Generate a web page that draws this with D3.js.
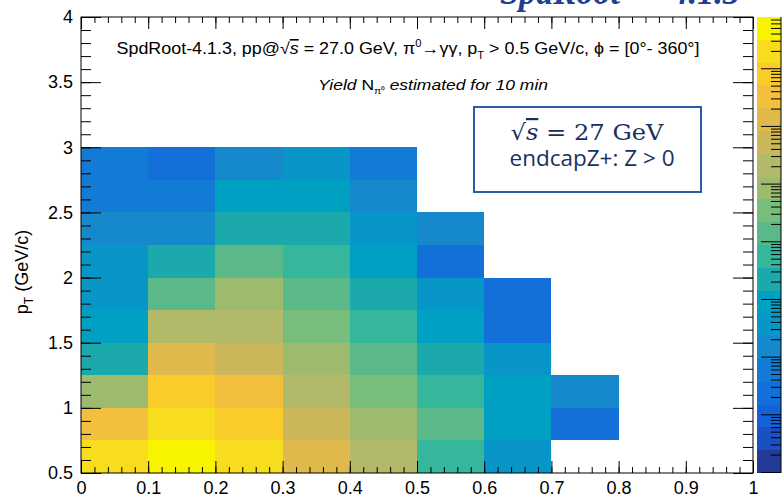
<!DOCTYPE html>
<html><head><meta charset="utf-8">
<script src="https://cdn.jsdelivr.net/npm/d3@7/dist/d3.min.js"></script>
<style>body{margin:0;background:#fff}svg{display:block}</style>
</head><body>
<svg id="c" width="784" height="500"></svg>
<script>
// ---- data ----
const xBinLow = [0, 0.1, 0.2, 0.3, 0.4, 0.5, 0.6, 0.7];          // x bin lower edges, width 0.1
const ptBinLow = [0.5, 0.75, 1.0, 1.25, 1.5, 1.75, 2.0, 2.25, 2.5, 2.75]; // pT bin lower edges, width 0.25
// yield per pT row (bottom to top), one entry per x bin, null = empty
const yield_pt050 = [2.0e6, 4.9e6, 1.9e6, 1.3e5, 2.1e4, 550, 36, null];
const yield_pt075 = [3.2e5, 2.1e6, 8.0e5, 5.2e4, 8.4e3, 1400, 88, 2.3];
const yield_pt100 = [8.4e3, 8.0e5, 3.1e5, 2.0e4, 3.4e3, 540, 86, 14];
const yield_pt125 = [220, 1.3e5, 5.0e4, 8.2e3, 1350, 215, 35, null];
const yield_pt150 = [90, 2.1e4, 2.0e4, 3.3e3, 560, 88, 2.3, null];
const yield_pt175 = [36, 1400, 8.5e3, 1380, 220, 37, 2.2, null];
const yield_pt200 = [35, 215, 1350, 540, 87, 2.4, null, null];
const yield_pt225 = [14, 14.5, 225, 218, 36, 14, null, null];
const yield_pt250 = [5.8, 5.9, 88, 90, 14.5, null, null, null];
const yield_pt275 = [5.7, 2.3, 14, 36, 5.9, null, null, null];
const yieldRows = [yield_pt050, yield_pt075, yield_pt100, yield_pt125, yield_pt150,
                   yield_pt175, yield_pt200, yield_pt225, yield_pt250, yield_pt275];
const xTicks = [0, 0.1, 0.2, 0.3, 0.4, 0.5, 0.6, 0.7, 0.8, 0.9, 1];
const yTicks = [0.5, 1, 1.5, 2, 2.5, 3, 3.5, 4];
const zLimits = [0.096, 7.74e6];
// 20-level palette, bottom to top
const palette = ["#233a96","#1a50c2","#1462d8","#1370d9","#127bd6","#1688cc","#0896c8","#00a0c3",
                 "#1ca9ac","#36b69a","#5bb888","#78bd7b","#9cbb6e","#b2b969","#ccb65a","#e0b94d",
                 "#f2c03c","#f9cc2a","#f7dd1e","#f8f400"];

// ---- layout ----
const L = 81, R = 753, T = 17, B = 473;
const svg = d3.select("#c");
const x = d3.scaleLinear([0, 1], [L, R]);
const y = d3.scaleLinear([0.5, 4], [B, T]);
const zY = d3.scaleLog(zLimits, [B, T]);
const color = d3.scaleQuantize([Math.log10(zLimits[0]), Math.log10(zLimits[1])], palette);

// title (cut off at top, as in the source slide)
svg.append("text").attr("x", 500).attr("y", 4)
  .attr("font-family", "Liberation Serif").attr("font-style", "italic").attr("font-weight", "bold")
  .attr("font-size", 38).attr("fill", "#1f3f8f")
  .attr("textLength", 240).attr("lengthAdjust", "spacingAndGlyphs").text("SpdRoot — 4.1.3");

// cells
const cells = [];
yieldRows.forEach((row, i) => row.forEach((v, j) => { if (v != null) cells.push({x0: xBinLow[j], y0: ptBinLow[i], v}); }));
svg.append("g").selectAll("rect").data(cells).join("rect")
  .attr("x", d => x(d.x0)).attr("y", d => y(d.y0 + 0.25))
  .attr("width", d => x(d.x0 + 0.1) - x(d.x0)).attr("height", d => y(d.y0) - y(d.y0 + 0.25))
  .attr("fill", d => color(Math.log10(d.v))).attr("shape-rendering", "crispEdges");

// axes
const font = "Liberation Sans";
function styleAxis(g) {
  g.select(".domain").remove();
  g.selectAll("line").attr("stroke", "#000");
  g.selectAll("text").attr("font-family", font).attr("font-size", 18).attr("fill", "#000");
}
const xMinor = d3.range(0, 1.0001, 0.02);
const yMinor = d3.range(0.5, 4.0001, 0.1);
svg.append("g").attr("transform", `translate(0,${B})`)
  .call(d3.axisBottom(x).tickValues(xMinor).tickSize(-6).tickFormat("")).call(styleAxis);
svg.append("g").attr("transform", `translate(0,${B})`)
  .call(d3.axisBottom(x).tickValues(xTicks).tickSize(-12).tickPadding(8).tickFormat(d3.format("~g"))).call(styleAxis);
svg.append("g").attr("transform", `translate(0,${T})`)
  .call(d3.axisTop(x).tickValues(xMinor).tickSize(-6).tickFormat("")).call(styleAxis);
svg.append("g").attr("transform", `translate(0,${T})`)
  .call(d3.axisTop(x).tickValues(xTicks).tickSize(-12).tickFormat("")).call(styleAxis);
svg.append("g").attr("transform", `translate(${L},0)`)
  .call(d3.axisLeft(y).tickValues(yMinor).tickSize(-10).tickFormat("")).call(styleAxis);
svg.append("g").attr("transform", `translate(${L},0)`)
  .call(d3.axisLeft(y).tickValues(yTicks).tickSize(-20).tickPadding(8).tickFormat(d3.format("~g"))).call(styleAxis);
svg.append("g").attr("transform", `translate(${R},0)`)
  .call(d3.axisRight(y).tickValues(yMinor).tickSize(-10).tickFormat("")).call(styleAxis);
svg.append("g").attr("transform", `translate(${R},0)`)
  .call(d3.axisRight(y).tickValues(yTicks).tickSize(-20).tickFormat("")).call(styleAxis);
svg.append("rect").attr("x", L).attr("y", T).attr("width", R - L).attr("height", B - T)
  .attr("fill", "none").attr("stroke", "#000").attr("stroke-width", 1);

// y title
svg.append("text").attr("transform", `translate(28,272) rotate(-90)`)
  .attr("text-anchor", "middle").attr("font-family", font).attr("font-size", 18)
  .call(t => { t.append("tspan").text("p");
               t.append("tspan").attr("font-size", 12).attr("dy", 5).text("T");
               t.append("tspan").attr("dy", -5).text(" (GeV/c)"); });

// colour bar (its labels lie outside the picture in the reference, so only ticks are drawn)
const CL = 757, CR = 781;
const bandEdges = d3.range(0, 21).map(k => Math.pow(10, Math.log10(zLimits[0]) + k * (Math.log10(zLimits[1]) - Math.log10(zLimits[0])) / 20));
svg.append("g").selectAll("rect").data(d3.range(20)).join("rect")
  .attr("x", CL).attr("width", CR - CL)
  .attr("y", k => zY(bandEdges[k + 1])).attr("height", k => zY(bandEdges[k]) - zY(bandEdges[k + 1]))
  .attr("fill", k => palette[k]).attr("shape-rendering", "crispEdges");
const zAll = zY.ticks();
const zMajor = zAll.filter(v => Math.abs(Math.log10(v) - Math.round(Math.log10(v))) < 1e-9);
const zMinorT = zAll.filter(v => !zMajor.includes(v));
svg.append("g").attr("transform", `translate(${CR},0)`)
  .call(d3.axisRight(zY).tickValues(zMinorT).tickSize(-10).tickFormat("")).call(styleAxis);
svg.append("g").attr("transform", `translate(${CR},0)`)
  .call(d3.axisRight(zY).tickValues(zMajor).tickSize(-20).tickFormat("")).call(styleAxis);
svg.append("line").attr("x1", CR).attr("x2", CR).attr("y1", T).attr("y2", B).attr("stroke", "#000");

// annotations
const t1 = svg.append("text").attr("x", 408).attr("y", 54).attr("text-anchor", "middle")
  .attr("font-family", "Liberation Sans Narrow, Liberation Sans").attr("font-size", 16)
  .attr("textLength", 583).attr("lengthAdjust", "spacingAndGlyphs");
t1.append("tspan").text("SpdRoot-4.1.3, pp@\u221A");
t1.append("tspan").attr("font-style", "italic").attr("text-decoration", "overline").text("s");
t1.append("tspan").text(" = 27.0 GeV,  \u03C0");
t1.append("tspan").attr("font-size", 10).attr("dy", -7).text("0");
t1.append("tspan").attr("dy", 7).text("\u2192\u03B3\u03B3,  p");
t1.append("tspan").attr("font-size", 10).attr("dy", 5).text("T");
t1.append("tspan").attr("dy", -5).text(" > 0.5 GeV/c, \u03D5 = [0\u00B0- 360\u00B0]");

const t2 = svg.append("text").attr("x", 433).attr("y", 90).attr("text-anchor", "middle")
  .attr("font-family", "Liberation Sans Narrow, Liberation Sans").attr("font-size", 15)
  .attr("textLength", 230).attr("lengthAdjust", "spacingAndGlyphs");
t2.append("tspan").attr("font-style", "italic").text("Yield ");
t2.append("tspan").text("N");
t2.append("tspan").attr("font-size", 9).attr("dy", 4).text("\u03C0\u2070");
t2.append("tspan").attr("dy", -4).attr("font-style", "italic").text(" estimated for 10 min");

// box
svg.append("rect").attr("x", 474).attr("y", 107).attr("width", 227).attr("height", 85)
  .attr("fill", "#fff").attr("stroke", "#2a5caa").attr("stroke-width", 2);
svg.append("text").attr("x", 587).attr("y", 140).attr("text-anchor", "middle")
  .attr("font-family", "DejaVu Serif, Liberation Serif").attr("font-size", 22).attr("fill", "#1a2f5e")
  .attr("textLength", 153).attr("lengthAdjust", "spacingAndGlyphs")
  .call(t => { t.append("tspan").text("\u221A");
               t.append("tspan").attr("font-style", "italic").attr("text-decoration", "overline").text("s");
               t.append("tspan").text(" = 27 GeV"); });
svg.append("text").attr("x", 592).attr("y", 166).attr("text-anchor", "middle")
  .attr("font-family", "Open Sans, Noto Sans").attr("font-size", 21).attr("fill", "#1a2f5e")
  .attr("textLength", 165).attr("lengthAdjust", "spacingAndGlyphs")
  .text("endcapZ+: Z > 0");
</script>
</body></html>
